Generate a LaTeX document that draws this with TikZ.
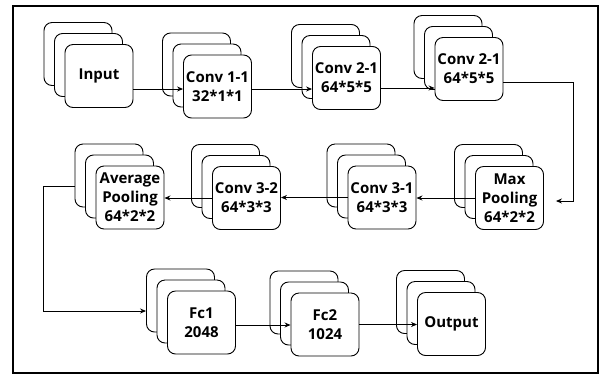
\documentclass[tikz,border=0pt]{standalone}
\usepackage{fontspec}
\setmainfont{Open Sans}
\usetikzlibrary{arrows.meta,calc}
\tikzset{
  bx/.style={draw, fill=white, rounded corners=8pt, minimum width=68pt, minimum height=63pt,
    inner sep=0pt, align=center, line width=0.9pt, font=\bfseries\fontsize{15}{19}\selectfont},
  arr/.style={draw, line width=0.8pt, -{Stealth[length=6pt,width=5pt]}},
  ln/.style={draw, line width=0.8pt}
}
\newcommand\lstack[4]{%
  \node[bx] (#1-b) at ({#2-21},{#3-22}) {};
  \node[bx] (#1-m) at ({#2-10.5},{#3-11}) {};
  \node[bx] (#1) at (#2,#3) {#4};
}
\begin{document}
\begin{tikzpicture}[x=1pt,y=-1pt]
\useasboundingbox (0,0) rectangle (608,376);
\draw[line width=2pt] (13,6) rectangle (598,373);
\lstack{in}{99}{76}{Input}
\lstack{c11}{217.5}{86.5}{Conv 1-1\\32*1*1}
\lstack{c21a}{346.5}{78}{Conv 2-1\\64*5*5}
\lstack{c21b}{469}{69}{Conv 2-1\\64*5*5}
\lstack{mp}{509.5}{198}{Max\\Pooling\\64*2*2}
\lstack{c31}{382}{197.5}{Conv 3-1\\64*3*3}
\lstack{c32}{246.5}{198}{Conv 3-2\\64*3*3}
\lstack{avg}{130}{197.5}{Average\\Pooling\\64*2*2}
\lstack{fc1}{201.5}{322.5}{Fc1\\2048}
\lstack{fc2}{325}{324.5}{Fc2\\1024}
\lstack{out}{451.5}{324}{Output}
% connectors
\coordinate (p1) at ([yshift=-13pt]in.east);
\draw[arr] (p1) -- (p1 -| c11.west);
\coordinate (p2) at ([yshift=-2.5pt]c11.east);
\draw[arr] (p2) -- (p2 -| c21a.west);
\coordinate (p3) at ([yshift=-10pt]c21a.east);
\draw[arr] (p3) -- (p3 -| c21b.west);
\coordinate (p4) at ([yshift=-13pt]c21b.east);
\coordinate (k4) at (573,201);
\coordinate (e4) at ([xshift=12pt,yshift=-3pt]mp.east);
\draw[arr] (p4) -| (k4) -- (e4);
\draw[arr] (mp.west) -- (mp.west -| c31.east);
\draw[arr] (c31.west) -- (c31.west -| c32.east);
\draw[arr] (c32.west) -- (c32.west -| avg.east);
\coordinate (p5) at ([yshift=-10.5pt]avg-b.west);
\coordinate (q5) at ([yshift=-10.5pt]fc1-b.west);
\coordinate (k5) at (43,0);
\draw[arr] (p5) -- (p5 -| k5) |- (q5);
\coordinate (p6) at ([yshift=-2.5pt]fc1.east);
\draw[arr] (p6) -- (p6 -| fc2.west);
\draw[arr] (fc2.east) -- (fc2.east -| out.west);
\end{tikzpicture}
\end{document}
